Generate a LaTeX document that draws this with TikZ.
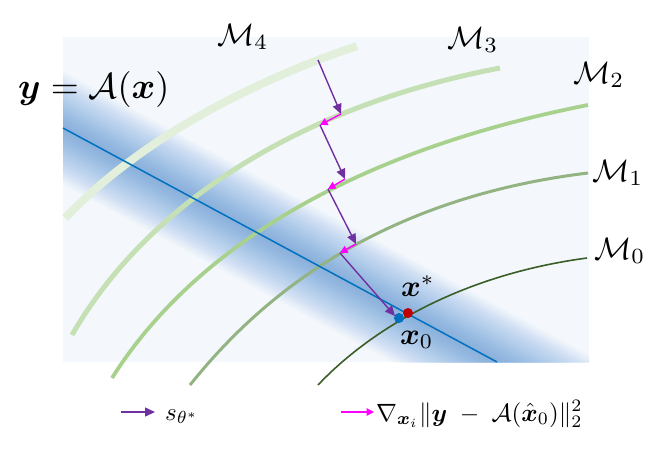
\documentclass[tikz,border=0pt]{standalone}
\usepackage{amsmath,bm,graphicx}
\usetikzlibrary{arrows.meta,calc}
\definecolor{bgc}{HTML}{F4F8FC}
\definecolor{bandc}{RGB}{70,140,210}
\definecolor{linec}{HTML}{0070C0}
\definecolor{mfourc}{HTML}{E2EFDA}
\definecolor{mthreec}{HTML}{C5E0B4}
\definecolor{mtwoc}{HTML}{A9D18E}
\definecolor{monec}{HTML}{93B383}
\definecolor{mzeroc}{HTML}{3B5E27}
\definecolor{purp}{HTML}{7030A0}
\definecolor{magc}{HTML}{FF00FF}
\definecolor{dotblue}{HTML}{0070C0}
\definecolor{dotred}{HTML}{C00000}
\begin{document}
\begin{tikzpicture}[x=1pt,y=-1pt,
  scorearrow/.style={draw=purp, line width=1.4pt, -{Triangle[length=10pt,width=9pt]}},
  gradarrow/.style={draw=magc, line width=1.4pt, -{Triangle[length=7.5pt,width=7.5pt]}},
  lbl/.style={inner sep=0pt, anchor=base west},
]
\useasboundingbox (0,0) rectangle (666,456);
\fill[bgc] (63,37) rectangle (589,362);
\coordinate (la) at (63,128);
\coordinate (lb) at (497,362);
\begin{scope}
  \clip (63,37) rectangle (589,362);
  \foreach \w in {100,97,...,4}
    \draw[bandc, line width=\w pt, opacity=0.024] ($(la)!-0.4!(lb)$) -- ($(la)!1.4!(lb)$);
\end{scope}
% curve end points
\coordinate (a4) at (65,218);   \coordinate (b4) at (357,46);
\coordinate (a3) at (72,335);   \coordinate (b3) at (500,68);
\coordinate (a2) at (112,378);  \coordinate (b2) at (588,105);
\coordinate (a1) at (190,385);  \coordinate (b1) at (588,173);
\coordinate (a0) at (318,385);  \coordinate (b0) at (587,258);
% points on manifolds
\coordinate (q4) at (318,60);
\coordinate (q3) at (320,125);
\coordinate (q2) at (328,189);
\coordinate (q1) at (340,253);
\coordinate (t1) at (341,114);
\coordinate (t2) at (345,179);
\coordinate (t3) at (356,244);
\coordinate (t4) at (395,316);
\coordinate (xs) at (408,313);
\coordinate (xz) at (399,318);
% manifolds
\draw[mfourc, line width=8pt] (a4) .. controls (130,150) and (232,88) .. (b4);
\draw[mthreec, line width=5pt] (a3) .. controls (135,225) and (270,112) .. (b3);
\draw[mtwoc, line width=3.8pt] (a2) .. controls (180,270) and (320,158) .. (b2);
\draw[monec, line width=3pt] (a1) .. controls (250,310) and (365,200) .. (b1);
\draw[mzeroc, line width=1.6pt] (a0) .. controls (370,330) and (460,275) .. (b0);
% measurement line
\draw[linec, line width=1.5pt] (la) -- (lb);
% arrows
\draw[scorearrow] (q4) -- (t1);
\draw[gradarrow] (t1) -- (q3);
\draw[scorearrow] (q3) -- (t2);
\draw[gradarrow] (t2) -- (q2);
\draw[scorearrow] (q2) -- (t3);
\draw[gradarrow] (t3) -- (q1);
\draw[scorearrow] (q1) -- (t4);
% dots
\fill[dotblue] (xz) circle (5pt);
\fill[dotred] (xs) circle (5pt);
% labels
\node[lbl] (eq) at (18,98) {\scalebox{3.6}{$\bm{y}=\mathcal{A}(\bm{x})$}};
\node[lbl] (lm4) at (217,45) {\scalebox{3.1}{$\mathcal{M}_4$}};
\node[lbl] (lm3) at (447,48) {\scalebox{3.1}{$\mathcal{M}_3$}};
\node[lbl] (lm2) at (573,83) {\scalebox{3.1}{$\mathcal{M}_2$}};
\node[lbl] (lm1) at (592,181) {\scalebox{3.1}{$\mathcal{M}_1$}};
\node[lbl] (lm0) at (594,259) {\scalebox{3.1}{$\mathcal{M}_0$}};
\node[lbl] (lxs) at (401,296) {\scalebox{3.0}{$\bm{x}^*$}};
\node[lbl] (lxz) at (400,344) {\scalebox{3.0}{$\bm{x}_0$}};
% legend
\coordinate (la1) at (121,412);
\coordinate (la2) at (155,412);
\coordinate (lg1) at (341,412);
\coordinate (lg2) at (374,412);
\draw[scorearrow] (la1) -- (la2);
\draw[gradarrow] (lg1) -- (lg2);
\node[lbl] (ls) at (165,420) {\scalebox{2.5}{$s_{\theta^*}$}};
\node[lbl] (lgr) at (376,421) {\scalebox{2.5}{$\nabla_{\bm{x}_i}\|\bm{y}\;-\;\mathcal{A}(\hat{\bm{x}}_0)\|_2^2$}};
\end{tikzpicture}
\end{document}
